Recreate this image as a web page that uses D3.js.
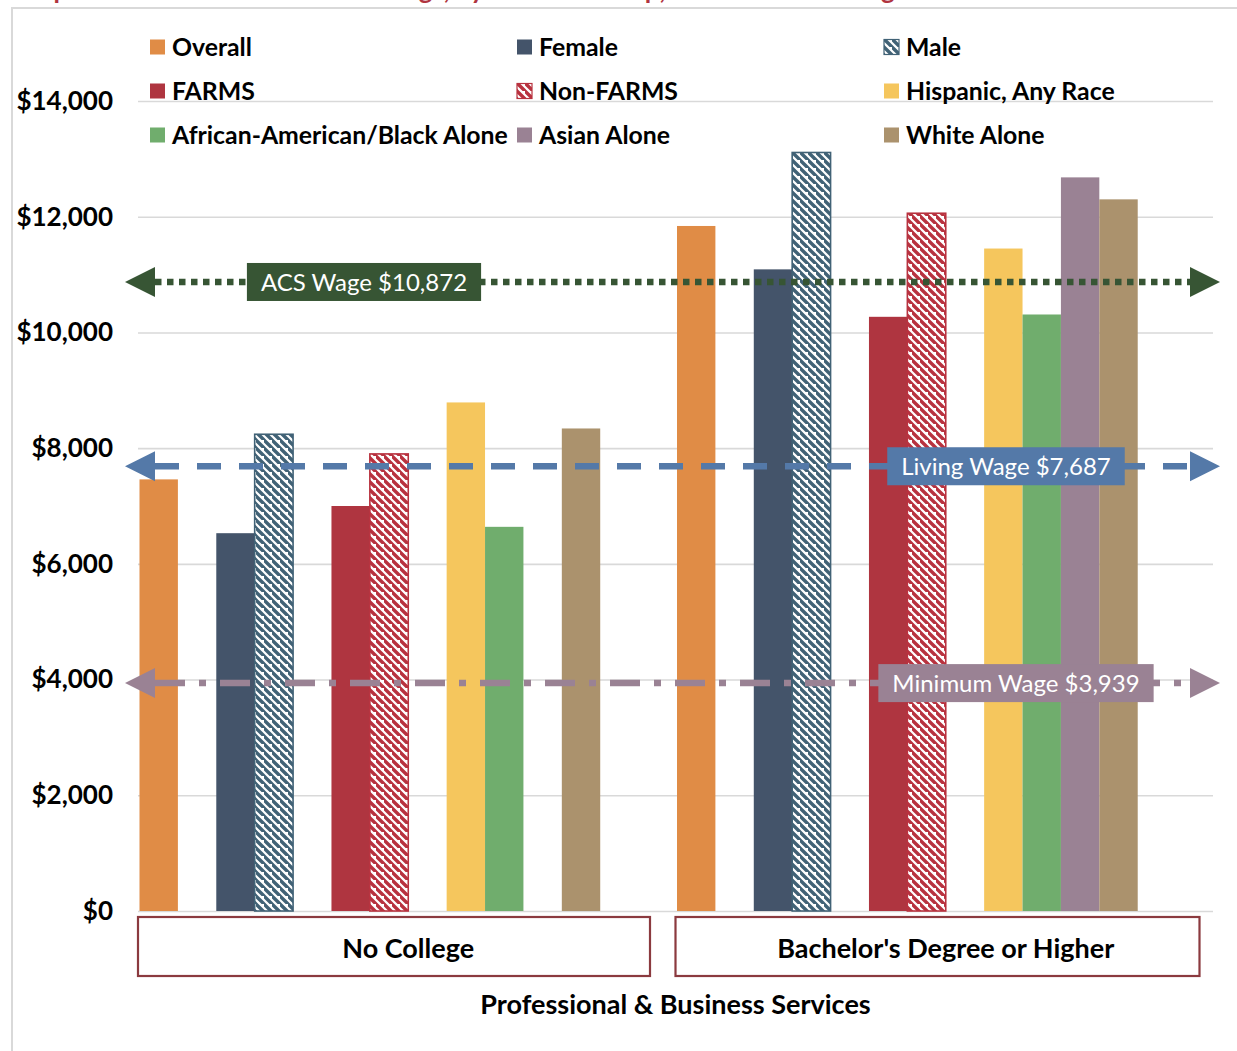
<!DOCTYPE html>
<html>
<head>
<meta charset="utf-8">
<script src="https://cdn.jsdelivr.net/npm/d3@7"></script>
<style>
  html, body { margin: 0; padding: 0; background: #fff; }
  svg { display: block; font-family: Lato, "Open Sans", sans-serif; }
</style>
</head>
<body>
<svg id="chart" width="1237" height="1051"></svg>
<script>
// ---- data ----
const groups = ["No College", "Bachelor's Degree or Higher"];
const seriesNames = ["Overall", "Female", "Male", "FARMS", "Non-FARMS",
  "Hispanic, Any Race", "African-American/Black Alone", "Asian Alone", "White Alone"];
// bars are laid out in clusters, with an empty slot after each cluster
const clusters = [
  ["Overall"],
  ["Female", "Male"],
  ["FARMS", "Non-FARMS"],
  ["Hispanic, Any Race", "African-American/Black Alone", "Asian Alone", "White Alone"]
];
const noCollegeValues = [7460, 6530, 8240, 7000, 7900, 8790, 6640, null, 8340];
const bachelorValues  = [11840, 11090, 13110, 10270, 12060, 11450, 10310, 12680, 12300];
const yTicks = [0, 2000, 4000, 6000, 8000, 10000, 12000, 14000];
const wageNames  = ["ACS Wage", "Living Wage", "Minimum Wage"];
const wageValues = [10872, 7687, 3939];
const industryTitle = "Professional & Business Services";
const chartTitle = "Graph 9: Median Annualized Earnings, by Student Group, Five Years after High School Graduation";

// ---- styles ----
const seriesColors = {
  "Overall": "#E08C46",
  "Female": "#44546A",
  "Male": "#416276",
  "FARMS": "#AF3540",
  "Non-FARMS": "#B8323F",
  "Hispanic, Any Race": "#F5C65D",
  "African-American/Black Alone": "#70AD6D",
  "Asian Alone": "#9A8294",
  "White Alone": "#AB926D"
};
const hatchedSeries = new Set(["Male", "Non-FARMS"]);
const wageStyles = [
  { color: "#375534", dash: "6.5 5.5", labelX: 364 },
  { color: "#5479A8", dash: "24 18",   labelX: 1006 },
  { color: "#9A8294", dash: "30 14 7 14", labelX: 1016 }
];
const groupBoxInsetRight = [27, 15];

const svg = d3.select("#chart");
const defs = svg.append("defs");

// downward-diagonal hatch patterns
hatchedSeries.forEach(name => {
  const p = defs.append("pattern")
    .attr("id", "hatch-" + name.replace(/[^A-Za-z]/g, ""))
    .attr("patternUnits", "userSpaceOnUse")
    .attr("width", 8).attr("height", 8);
  p.append("rect").attr("width", 8).attr("height", 8).attr("fill", "#fff");
  p.append("path")
    .attr("d", "M-2,-2 L10,10 M-6,2 L2,10 M6,-6 L14,2")
    .attr("stroke", seriesColors[name]).attr("stroke-width", 3.4);
});
const fillOf = name => hatchedSeries.has(name)
  ? `url(#hatch-${name.replace(/[^A-Za-z]/g, "")})`
  : seriesColors[name];

// title (sits above the chart frame)
svg.append("text")
  .attr("x", 12).attr("y", -1)
  .attr("font-size", 26).attr("font-weight", 700)
  .attr("fill", "#B0343F")
  .text(chartTitle);

// chart frame
svg.append("rect")
  .attr("x", 12).attr("y", 8).attr("width", 1400).attr("height", 1200)
  .attr("fill", "none").attr("stroke", "#D9D9D9").attr("stroke-width", 2);

// ---- scales ----
const plotLeft = 138, plotRight = 1213;
const y = d3.scaleLinear().domain([0, 14000]).range([911, 101]);

const slotOf = {};
let slot = 0;
clusters.forEach(c => { c.forEach(s => { slotOf[s] = slot++; }); slot++; });
const slotCount = slot + 1;

const x0 = d3.scaleBand().domain(groups).range([plotLeft + 1.5, plotRight + 1.5]);
const x1 = d3.scaleBand().domain(d3.range(slotCount)).range([0, x0.bandwidth()]);

// ---- gridlines + y axis ----
const yAxis = d3.axisLeft(y)
  .tickValues(yTicks)
  .tickFormat(d3.format("$,"))
  .tickSizeInner(-(plotRight - plotLeft))
  .tickSizeOuter(0)
  .tickPadding(25);
const gy = svg.append("g").attr("transform", `translate(${plotLeft},0)`).call(yAxis);
gy.select(".domain").remove();
gy.selectAll(".tick line").attr("stroke", "#D9D9D9").attr("stroke-width", 1.6);
gy.selectAll(".tick text")
  .attr("font-size", 26).attr("font-weight", 700).attr("fill", "#000")
  .attr("font-family", "Lato, sans-serif");

// ---- bars ----
const allValues = [noCollegeValues, bachelorValues];
const bars = groups.flatMap((g, gi) =>
  seriesNames.map((s, si) => ({ group: g, series: s, value: allValues[gi][si] })))
  .filter(d => d.value != null);

svg.append("g").selectAll("rect")
  .data(bars)
  .join("rect")
  .attr("x", d => x0(d.group) + x1(slotOf[d.series]))
  .attr("width", x1.bandwidth())
  .attr("y", d => y(d.value))
  .attr("height", d => y(0) - y(d.value))
  .attr("fill", d => fillOf(d.series))
  .attr("stroke", d => hatchedSeries.has(d.series) ? seriesColors[d.series] : "none")
  .attr("stroke-width", 1.6);

// ---- legend ----
const legend = svg.append("g");
seriesNames.forEach((name, i) => {
  const col = i % 3, row = Math.floor(i / 3);
  const gx = 150 + col * 367, gyy = 47 + row * 44;
  const item = legend.append("g").attr("transform", `translate(${gx},${gyy})`);
  item.append("rect")
    .attr("x", 0).attr("y", -7.5).attr("width", 15).attr("height", 15)
    .attr("fill", fillOf(name))
    .attr("stroke", hatchedSeries.has(name) ? seriesColors[name] : "none")
    .attr("stroke-width", 1.2);
  item.append("text")
    .attr("x", 22).attr("y", 0).attr("dy", "0.36em")
    .attr("font-size", 24.8).attr("font-weight", 700).attr("fill", "#000")
    .text(name);
});

// ---- reference wage lines ----
const arrowTipL = 125, arrowBaseL = 155, arrowTipR = 1220, arrowBaseR = 1190, arrowHalf = 15;
wageValues.forEach((v, i) => {
  const st = wageStyles[i];
  const yy = y(v);
  const g = svg.append("g");
  g.append("line")
    .attr("x1", arrowBaseL).attr("x2", arrowBaseR)
    .attr("y1", yy).attr("y2", yy)
    .attr("stroke", st.color).attr("stroke-width", 6.5)
    .attr("stroke-dasharray", st.dash);
  g.append("path")
    .attr("d", `M${arrowTipL},${yy} L${arrowBaseL},${yy - arrowHalf} L${arrowBaseL},${yy + arrowHalf} Z`)
    .attr("fill", st.color);
  g.append("path")
    .attr("d", `M${arrowTipR},${yy} L${arrowBaseR},${yy - arrowHalf} L${arrowBaseR},${yy + arrowHalf} Z`)
    .attr("fill", st.color);
  const label = g.append("text")
    .attr("x", st.labelX).attr("y", yy).attr("dy", "0.36em")
    .attr("text-anchor", "middle")
    .attr("font-size", 24).attr("fill", "#fff")
    .text(`${wageNames[i]} ${d3.format("$,")(v)}`);
  const w = label.node().getComputedTextLength();
  g.insert("rect", "text")
    .attr("x", st.labelX - w / 2 - 14).attr("width", w + 28)
    .attr("y", yy - 19).attr("height", 38)
    .attr("fill", st.color);
});

// ---- group boxes on the category axis (labels centred on each group band) ----
groups.forEach((g, gi) => {
  const left = x0(g) - 1.5, right = x0(g) + x0.bandwidth() - groupBoxInsetRight[gi];
  svg.append("rect")
    .attr("x", left).attr("y", 917).attr("width", right - left).attr("height", 59)
    .attr("fill", "#fff").attr("stroke", "#8B3A3F").attr("stroke-width", 2.2);
  svg.append("text")
    .attr("x", x0(g) + x0.bandwidth() / 2).attr("y", 948).attr("dy", "0.36em")
    .attr("text-anchor", "middle")
    .attr("font-size", 27).attr("font-weight", 700).attr("fill", "#000")
    .text(g);
});

svg.append("text")
  .attr("x", (plotLeft + plotRight) / 2).attr("y", 1004).attr("dy", "0.36em")
  .attr("text-anchor", "middle")
  .attr("font-size", 27).attr("font-weight", 700).attr("fill", "#000")
  .text(industryTitle);
</script>
</body>
</html>
